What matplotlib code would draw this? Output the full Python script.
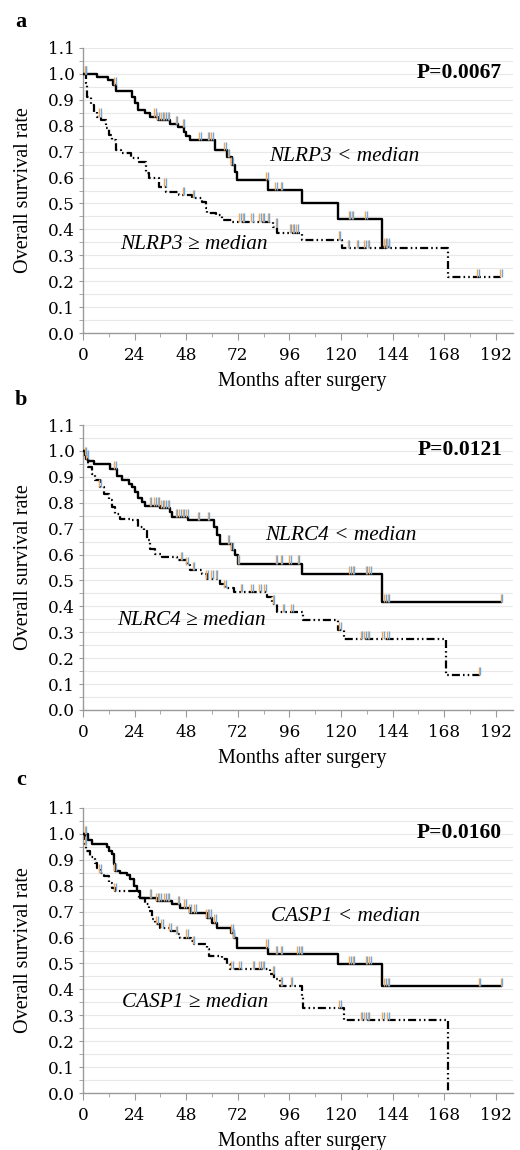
import numpy as np
import matplotlib.pyplot as plt
from matplotlib.ticker import MultipleLocator, FormatStrFormatter

# ---- data (months, survival) ----
# panel a: NLRP3
a_low_t = [0, 6.5, 11.8, 14, 15.5, 22.7, 24, 25.7, 28.8, 31, 34.9, 40.5, 44.4, 46.8, 48, 49.9,
           61.3, 66.9, 69.1, 70.6, 71.7, 86.2, 101.7, 118.6, 138.9]
a_low_s = [1.0, 0.99, 0.975, 0.957, 0.935, 0.912, 0.886, 0.861, 0.848, 0.835, 0.822, 0.807, 0.794,
           0.777, 0.76, 0.745, 0.706, 0.68, 0.648, 0.623, 0.59, 0.552, 0.50, 0.439, 0.333]
a_low_end = 142
a_low_cens = [1.1, 15, 33.6, 35, 36.7, 38.2, 39.8, 43.6, 46.7, 54.5, 58.4, 59.9, 66.1, 67.6, 69.2,
              85.5, 89.8, 92.4, 123.9, 125.4, 131.6, 140.4, 141.9]
a_high_t = [0, 1.3, 2.0, 3.6, 5.2, 6.7, 8.3, 10.6, 12.2, 13.7, 15.3, 17.7, 22.3, 26.2, 29.3, 30.8,
            35.4, 38.5, 44.7, 50.9, 55.5, 57.1, 57.9, 61.7, 64.8, 69.4, 88.5, 90.4, 101.7, 120.5, 169.8]
a_high_s = [1.0, 0.964, 0.912, 0.88, 0.854, 0.835, 0.822, 0.79, 0.764, 0.745, 0.706, 0.694, 0.674,
            0.661, 0.616, 0.597, 0.565, 0.545, 0.533, 0.52, 0.507, 0.481, 0.462, 0.455, 0.436, 0.43,
            0.41, 0.387, 0.36, 0.327, 0.215]
a_high_end = 194.5
a_high_cens = [1.1, 8.0, 38.2, 46.7, 51.4, 73, 74.6, 78.5, 82.3, 83.9, 86.2, 90, 96.4, 98, 99.6,
               119.2, 123.4, 127.7, 131.2, 132.7, 140.4, 141.9, 183.8, 194.5]

# panel b: NLRC4
b_low_t = [0, 0.8, 1.6, 2.4, 4.9, 12.5, 15.8, 18.1, 21.2, 22.7, 24.3, 25.8, 27.3, 29, 36, 40.5,
           41.3, 49, 60.7, 62.2, 63.8, 69.2, 70.7, 71.9, 102, 138.9]
b_low_s = [1.0, 0.985, 0.97, 0.96, 0.95, 0.93, 0.905, 0.886, 0.873, 0.86, 0.84, 0.82, 0.802, 0.789,
           0.78, 0.764, 0.744, 0.732, 0.708, 0.674, 0.642, 0.616, 0.597, 0.565, 0.524, 0.417]
b_low_end = 194.6
b_low_cens = [1.1, 15, 31.3, 33.6, 35.1, 36.7, 38.2, 39.8, 43.6, 45.2, 46.7, 48.3, 53.7, 58.4,
              67.6, 69.2, 72.3, 90.1, 92.4, 96.3, 100.2, 124.2, 125.7, 131.9, 133.5, 140.5, 142, 194.6]
b_high_t = [0, 1.2, 2.5, 4.1, 5.7, 8.0, 9.6, 11.9, 13.5, 15.0, 17.3, 21.9, 25.8, 28.2, 29.7, 31.3,
            33.6, 36.7, 43.6, 48.3, 49.8, 55.5, 57.6, 63.8, 66.1, 70.0, 85.4, 87.8, 90.1, 102.3,
            118.7, 121.5, 169.0]
b_high_s = [1.0, 0.97, 0.937, 0.911, 0.886, 0.86, 0.834, 0.809, 0.783, 0.757, 0.738, 0.732, 0.706,
            0.693, 0.655, 0.623, 0.603, 0.59, 0.578, 0.558, 0.539, 0.526, 0.507, 0.488, 0.469, 0.456,
            0.436, 0.411, 0.379, 0.347, 0.308, 0.273, 0.135]
b_high_end = 184.5
b_high_cens = [1.9, 8, 45.9, 48.3, 51.4, 57.6, 59.9, 62.2, 66.1, 73.8, 78.5, 82.3, 84.6, 88.6,
               93.3, 97.1, 119.5, 129.6, 131.2, 132.7, 139.6, 141.9, 184.5]

# panel c: CASP1
c_low_t = [0, 2.4, 4.2, 11.0, 12.0, 13.5, 14.3, 15.0, 17.3, 20.4, 21.9, 23.5, 25.0, 26.3, 34.4,
           41.3, 45.2, 49.8, 57.6, 60.0, 62.2, 68.9, 70.0, 71.8, 86.2, 118.7, 138.9]
c_low_s = [1.0, 0.978, 0.962, 0.949, 0.933, 0.921, 0.882, 0.857, 0.85, 0.841, 0.825, 0.799, 0.78,
           0.754, 0.741, 0.728, 0.715, 0.696, 0.677, 0.658, 0.638, 0.619, 0.60, 0.561, 0.536, 0.498,
           0.412]
c_low_end = 194.6
c_low_cens = [1.1, 15, 31.3, 34.4, 35.9, 38.2, 39.8, 44.4, 47.5, 49.8, 52.2, 57.6, 59.1, 61.5, 69.2,
              70, 85.5, 90, 92.4, 100.1, 101.7, 124.2, 125.7, 131.9, 133.5, 140.5, 142, 184.5, 194.6]
c_high_t = [0, 0.8, 1.6, 3.4, 5.7, 6.5, 8.0, 9.6, 11.9, 13.5, 15.0, 26.0, 29.0, 30.5, 32.0, 33.6,
            35.9, 40.5, 43.6, 45.2, 50.0, 51.4, 57.6, 58.4, 64.8, 66.9, 68.4, 86.9, 89.0, 91.7,
            101.7, 102.5, 121.5, 169.8]
c_high_s = [1.0, 0.959, 0.933, 0.91, 0.888, 0.869, 0.85, 0.837, 0.812, 0.792, 0.78, 0.754, 0.728,
            0.703, 0.671, 0.651, 0.638, 0.626, 0.613, 0.60, 0.587, 0.575, 0.555, 0.53, 0.517, 0.498,
            0.478, 0.459, 0.44, 0.414, 0.369, 0.328, 0.282, 0.0]
c_high_end = 169.8
c_high_cens = [1.1, 8, 15, 34.4, 36.7, 40.5, 43.6, 48.3, 51.4, 69.2, 73, 79.2, 82.3, 83.9, 88.5,
               92.4, 97, 119.5, 129.6, 131.2, 132.7, 139.6, 141.9]

letters = ['a', 'b', 'c']
genes = ['NLRP3', 'NLRC4', 'CASP1']
p_values = ['P=0.0067', 'P=0.0121', 'P=0.0160']
# label anchors (months, survival) for "< median" and ">= median"
low_label_xy = [(86.7, 0.68), (84.7, 0.674), (87.3, 0.681)]
high_label_xy = [(17.3, 0.34), (15.8, 0.344), (18.1, 0.348)]

SERIF = ['Liberation Serif', 'DejaVu Serif']
TICKFONT = 'DejaVu Serif'
SPINE = '#9a9a9a'


def km_step(ax, t, s, end, **kw):
    ax.step(list(t) + [end], list(s) + [s[-1]], where='post', **kw)


def censor_marks(ax, t, s, cens):
    t = np.asarray(t)
    s = np.asarray(s)
    c = np.asarray(cens)
    y = s[np.searchsorted(t, c, side='right') - 1]
    ax.vlines(c - 0.35, y, y + 0.032, color='#f2a65a', lw=1.0, zorder=4)
    ax.vlines(c + 0.35, y, y + 0.032, color='#6fa8dc', lw=1.0, zorder=4)


fig = plt.figure(figsize=(5.2, 11.5), dpi=100)

panels = [
    (a_low_t, a_low_s, a_low_end, a_low_cens, a_high_t, a_high_s, a_high_end, a_high_cens),
    (b_low_t, b_low_s, b_low_end, b_low_cens, b_high_t, b_high_s, b_high_end, b_high_cens),
    (c_low_t, c_low_s, c_low_end, c_low_cens, c_high_t, c_high_s, c_high_end, c_high_cens),
]
bottoms = [1 - 333 / 1150, 1 - 710 / 1150, 1 - 1093 / 1150]
letter_y = [22, 400, 780]

for i, (lt, ls, le, lc, ht, hs, he, hc) in enumerate(panels):
    ax = fig.add_axes([83 / 520, bottoms[i], 430 / 520, 285 / 1150])

    km_step(ax, ht, hs, he, color='black', lw=1.6,
            linestyle=(0, (3.6, 1.4, 0.7, 1.4, 0.7, 1.4)), zorder=3)
    km_step(ax, lt, ls, le, color='black', lw=1.7, zorder=3)
    censor_marks(ax, ht, hs, hc)
    censor_marks(ax, lt, ls, lc)

    ax.set_xlim(0, 200)
    ax.set_ylim(0, 1.1)
    ax.xaxis.set_major_locator(MultipleLocator(24))
    ax.xaxis.set_minor_locator(MultipleLocator(12))
    ax.yaxis.set_major_locator(MultipleLocator(0.1))
    ax.yaxis.set_minor_locator(MultipleLocator(0.05))
    ax.yaxis.set_major_formatter(FormatStrFormatter('%.1f'))
    ax.set_xticks(np.arange(0, 193, 24))
    ax.yaxis.grid(True, which='both', color='#e8e8e8', lw=0.8)
    ax.set_axisbelow(True)

    for side in ['top', 'right']:
        ax.spines[side].set_visible(False)
    for side in ['left', 'bottom']:
        ax.spines[side].set_color(SPINE)
        ax.spines[side].set_linewidth(1.0)
    ax.tick_params(axis='x', which='major', length=5, color=SPINE, pad=5)
    ax.tick_params(axis='x', which='minor', length=3, color=SPINE)
    ax.tick_params(axis='y', which='both', length=3, color=SPINE, pad=3)
    for lab in ax.get_xticklabels() + ax.get_yticklabels():
        lab.set_fontfamily(TICKFONT)
        lab.set_fontsize(12.2)

    ax.text(-0.1395, 0.5, 'Overall survival rate', transform=ax.transAxes, rotation=90,
            ha='center', va='center', family=SERIF, fontsize=14.5)
    ax.text(0.51, -0.167, 'Months after surgery', transform=ax.transAxes,
            ha='center', va='center', family=SERIF, fontsize=14.5)

    ax.text(195, 1.005, p_values[i], ha='right', va='center', family=SERIF,
            fontsize=15.5, fontweight='bold')
    ax.text(*low_label_xy[i], genes[i] + ' < median', ha='left', va='center',
            family=SERIF, fontsize=15.3, style='italic')
    ax.text(*high_label_xy[i], genes[i] + ' \u2265 median', ha='left', va='center',
            family=SERIF, fontsize=15.3, style='italic')

    fig.text(21 / 520, 1 - letter_y[i] / 1150, letters[i], ha='center', va='center',
             family=SERIF, fontsize=16, fontweight='bold')

fig.savefig('out.png', dpi=100)
